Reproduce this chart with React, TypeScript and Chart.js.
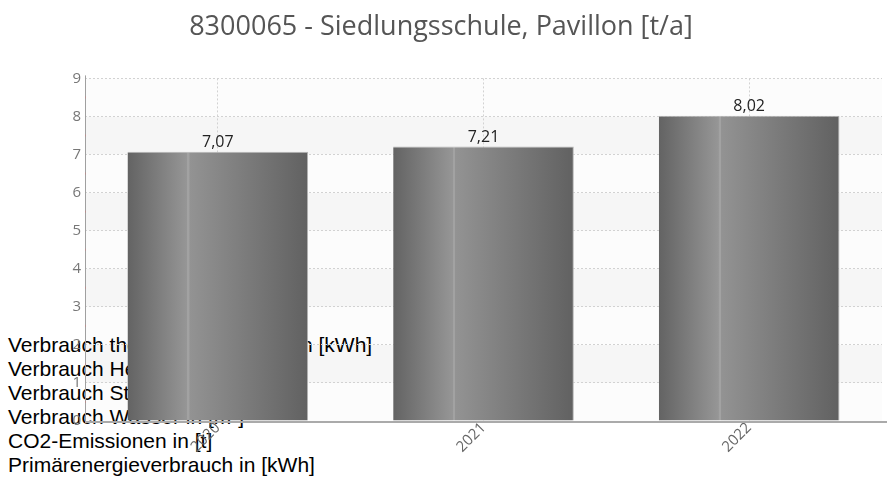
import React, { useEffect, useRef } from 'react';
import { Chart, registerables } from 'chart.js';

Chart.register(...registerables);

const TITLE = '8300065 - Siedlungsschule, Pavillon [t/a]';
const CATEGORIES = ['2020', '2021', '2022'];
const VALUES = [7.07, 7.21, 8.02];
const Y_MIN = 0;
const Y_MAX = 9;
const Y_STEP = 1;
const LEGEND_LINES = [
  'Verbrauch thermische Energie in [kWh]',
  'Verbrauch Heizstrom in [kWh]',
  'Verbrauch Strom in [kWh]',
  'Verbrauch Wasser in [m³]',
  'CO2-Emissionen in [t]',
  'Primärenergieverbrauch in [kWh]',
];

const BAR_PCT = 0.68;
const FONT = "'Open Sans', 'Noto Sans', sans-serif";

const fmt = (v: number) => v.toFixed(2).replace('.', ',');

export default function App() {
  const ref = useRef<HTMLCanvasElement>(null);

  useEffect(() => {
    const canvas = ref.current;
    if (!canvas) return;

    const bandPlugin = {
      id: 'bands',
      beforeDraw(chart: any) {
        const { ctx, chartArea, scales } = chart;
        const y = scales.y;
        ctx.save();
        for (let v = Y_MIN; v < Y_MAX; v += Y_STEP) {
          const top = y.getPixelForValue(v + Y_STEP);
          const bottom = y.getPixelForValue(v);
          ctx.fillStyle = v % 2 === 1 ? 'rgba(0,0,0,0.035)' : 'rgba(0,0,0,0.012)';
          ctx.fillRect(chartArea.left, top, chartArea.right - chartArea.left, bottom - top);
        }
        ctx.restore();
      },
    };

    const axisLinePlugin = {
      id: 'axisLines',
      beforeDatasetsDraw(chart: any) {
        const { ctx, chartArea } = chart;
        ctx.save();
        ctx.setLineDash([]);
        ctx.strokeStyle = '#a0a0a0';
        ctx.lineWidth = 1;
        ctx.beginPath();
        ctx.moveTo(chartArea.left + 0.5, chartArea.top - 3);
        ctx.lineTo(chartArea.left + 0.5, chartArea.bottom);
        ctx.stroke();
        ctx.strokeStyle = '#aaaaaa';
        ctx.lineWidth = 2;
        ctx.beginPath();
        ctx.moveTo(chartArea.left, chartArea.bottom + 1);
        ctx.lineTo(chart.width, chartArea.bottom + 1);
        ctx.stroke();
        ctx.restore();
      },
    };

    const labelPlugin = {
      id: 'valueLabels',
      afterDatasetsDraw(chart: any) {
        const { ctx } = chart;
        const meta = chart.getDatasetMeta(0);
        ctx.save();
        ctx.font = `16px ${FONT}`;
        ctx.fillStyle = '#222';
        ctx.textAlign = 'center';
        ctx.textBaseline = 'bottom';
        meta.data.forEach((el: any, i: number) => {
          ctx.fillText(fmt(VALUES[i]), el.x, el.y - 1);
        });
        ctx.restore();
      },
    };

    const minorTickPlugin = {
      id: 'minorTicks',
      afterDraw(chart: any) {
        const { ctx, chartArea, scales } = chart;
        const y = scales.y;
        ctx.save();
        ctx.fillStyle = 'rgba(220,110,110,0.35)';
        for (let v = Y_MIN + Y_STEP / 2; v < Y_MAX; v += Y_STEP) {
          const py = y.getPixelForValue(v);
          ctx.fillRect(chartArea.left, py - 1, 1, 2);
        }
        ctx.restore();
      },
    };

    const chart = new Chart(canvas, {
      type: 'bar',
      data: {
        labels: CATEGORIES,
        datasets: [
          {
            data: VALUES,
            backgroundColor: (c: any) => {
              const ch = c.chart;
              const xs = ch.scales && ch.scales.x;
              if (!xs || c.dataIndex === undefined || !ch.chartArea) return '#7d7d7d';
              const cx = xs.getPixelForValue(c.dataIndex);
              const w = (xs.width / CATEGORIES.length) * BAR_PCT;
              const g = ch.ctx.createLinearGradient(cx - w / 2, 0, cx + w / 2, 0);
              g.addColorStop(0, '#636363');
              g.addColorStop(0.33, '#969696');
              g.addColorStop(0.332, '#a2a2a2');
              g.addColorStop(0.342, '#a2a2a2');
              g.addColorStop(0.344, '#939393');
              g.addColorStop(1, '#616161');
              return g;
            },
            borderColor: '#b4b4b4',
            borderWidth: { top: 1, right: 1, left: 0, bottom: 0 },
            barPercentage: BAR_PCT,
            categoryPercentage: 1,
          },
        ],
      },
      options: {
        animation: false,
        responsive: false,
        devicePixelRatio: 1,
        layout: { padding: { left: 0, right: 5, top: 0, bottom: 0 } },
        plugins: {
          legend: { display: false },
          tooltip: { enabled: false },
          title: {
            display: true,
            text: TITLE,
            color: '#555',
            font: { family: FONT, size: 27, weight: 'normal', lineHeight: 1.2 },
            padding: { top: 11, bottom: 35 },
          },
        },
        scales: {
          x: {
            offset: true,
            grid: { offset: false, color: '#d2d2d2', lineWidth: 1, drawTicks: false },
            border: { display: false, dash: [2, 2] },
            ticks: {
              color: '#666',
              font: { family: FONT, size: 15 },
              maxRotation: 45,
              minRotation: 45,
              padding: -2,
              autoSkip: false,
            },
            afterFit: (s: any) => {
              s.height = 57;
            },
          },
          y: {
            min: Y_MIN,
            max: Y_MAX,
            ticks: {
              stepSize: Y_STEP,
              color: '#777',
              font: { family: FONT, size: 15 },
              padding: 4,
            },
            grid: {
              color: (c: any) => (c.tick && c.tick.value === 0 ? 'rgba(0,0,0,0)' : '#d2d2d2'),
              lineWidth: 1,
              drawTicks: false,
            },
            border: { display: false, dash: [2, 2] },
            afterFit: (s: any) => {
              s.width = 85;
            },
          },
        },
      },
      plugins: [bandPlugin, axisLinePlugin, labelPlugin, minorTickPlugin],
    } as any);

    return () => chart.destroy();
  }, []);

  return (
    <div style={{ position: 'absolute', left: 0, top: 0, width: 887, height: 478 }}>
      <div
        style={{
          position: 'absolute',
          left: 8,
          top: 333,
          zIndex: 0,
          fontFamily: "'Liberation Sans', Arial, sans-serif",
          fontSize: 21,
          color: '#000',
          whiteSpace: 'nowrap',
        }}
      >
        {LEGEND_LINES.map((t) => (
          <div key={t}>{t}</div>
        ))}
      </div>
      <canvas
        ref={ref}
        width={887}
        height={478}
        style={{ position: 'absolute', left: 0, top: 0, zIndex: 1, display: 'block', width: 887, height: 478 }}
      />
    </div>
  );
}
